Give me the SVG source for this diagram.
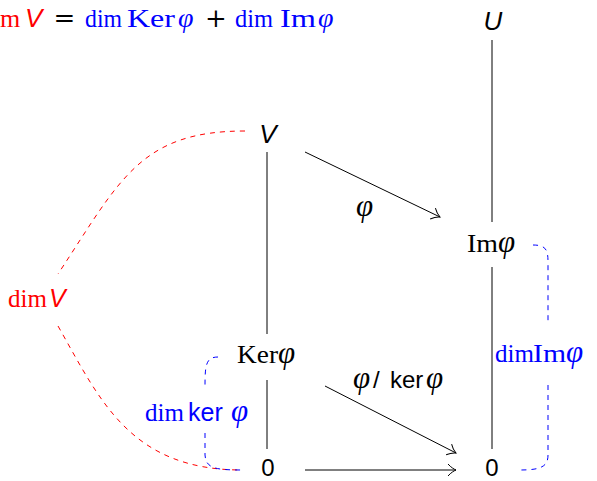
<svg xmlns="http://www.w3.org/2000/svg" width="597" height="481" viewBox="0 0 597 481">
<style>
.serif{font-family:"Liberation Serif","Times New Roman",serif}
.sans{font-family:"Liberation Sans",Arial,sans-serif}
.it{font-style:italic}
.phi{font-family:"Liberation Serif","Times New Roman",serif;font-style:italic}
.op{font-family:"DejaVu Serif",serif}
.red{fill:#ff0000}
.blue{fill:#0000ff}
.blk{fill:#000}
.ln{stroke:#000;stroke-width:1;fill:none}
.rd{stroke:#ff0000;stroke-width:1;fill:none;stroke-dasharray:5 5}
.bd{stroke:#0000ff;stroke-width:1;fill:none;stroke-dasharray:5 5}
</style>
<defs>
<marker id="to" markerUnits="userSpaceOnUse" markerWidth="16" markerHeight="16" refX="0" refY="0" viewBox="-10 -8 12 16" orient="auto" overflow="visible">
<path d="M -8,-6 C -5,-2.5 -1.5,-0.6 0,0 C -1.5,0.6 -5,2.5 -8,6" stroke="#000" stroke-width="1" fill="none"/>
</marker>
</defs>
<rect width="597" height="481" fill="#fff"/>
<g id="formula" font-size="26">
<text class="serif red" x="0" y="27">m</text>
<text class="sans it red" x="25" y="27">V</text>
<text class="op blk" x="64.5" y="27" text-anchor="middle">=</text>
<text class="serif blue" x="85" y="27" textLength="37" lengthAdjust="spacingAndGlyphs">dim</text>
<text class="serif blue" x="127" y="27" textLength="48" lengthAdjust="spacingAndGlyphs">Ker</text>
<text class="phi blue" x="178" y="27" font-size="28">φ</text>
<text class="op blk" x="216" y="27" text-anchor="middle">+</text>
<text class="serif blue" x="235" y="27" textLength="38" lengthAdjust="spacingAndGlyphs">dim</text>
<text class="serif blue" x="280" y="27" textLength="36" lengthAdjust="spacingAndGlyphs">Im</text>
<text class="phi blue" x="318" y="27" font-size="28">φ</text>
</g>
<g id="connectors">
<line class="ln" x1="267" y1="152" x2="267" y2="334"/>
<line class="ln" x1="267" y1="380" x2="267" y2="449"/>
<line class="ln" x1="492" y1="40" x2="492" y2="222"/>
<line class="ln" x1="492" y1="267" x2="492" y2="449"/>
<line class="ln" x1="305" y1="152" x2="440" y2="217" marker-end="url(#to)"/>
<line class="ln" x1="325" y1="386" x2="456" y2="453" marker-end="url(#to)"/>
<line class="ln" x1="305" y1="470" x2="456" y2="470" marker-end="url(#to)"/>
<path class="rd" d="M 245,131 C 140,131 120,180 58,274"/>
<path class="rd" d="M 58,326 C 100,400 130,470 242,470"/>
<path class="bd" d="M 218,357 C 206,357 205,365 205,386"/>
<path class="bd" d="M 205,433 L 205,455 C 206,468 214,470 242,470"/>
<path class="bd" d="M 533,245 C 546,245 548,250 548,262 L 548,324"/>
<path class="bd" d="M 548,385 L 548,455 C 548,466 542,470 520,470"/>
</g>
<g id="node-V"><text class="sans it blk" x="268" y="143" font-size="26" text-anchor="middle">V</text></g>
<g id="node-U"><text class="sans it blk" x="493" y="30" font-size="26" text-anchor="middle">U</text></g>
<g id="node-Im"><text class="serif blk" x="467" y="252" font-size="26" textLength="31" lengthAdjust="spacingAndGlyphs">Im</text><text class="phi blk" x="498" y="252" font-size="31">φ</text></g>
<g id="node-Ker"><text class="serif blk" x="237" y="363" font-size="26" textLength="41" lengthAdjust="spacingAndGlyphs">Ker</text><text class="phi blk" x="278" y="363" font-size="31">φ</text></g>
<g id="node-0L"><text class="sans blk" x="268" y="476" font-size="24" text-anchor="middle">0</text></g>
<g id="node-0R"><text class="sans blk" x="492" y="476" font-size="24" text-anchor="middle">0</text></g>
<g id="label-dimV"><text class="serif red" x="8" y="307" font-size="25">dim<tspan class="sans it" dx="2">V</tspan></text></g>
<g id="label-dimker"><text class="blue" x="145" y="421" font-size="25"><tspan class="serif">dim</tspan><tspan class="sans" x="188">ker</tspan><tspan class="phi" x="231" font-size="31">φ</tspan></text></g>
<g id="label-dimIm"><text class="blue" x="495" y="362" font-size="25"><tspan class="serif">dim</tspan><tspan class="serif" x="533" textLength="33" lengthAdjust="spacingAndGlyphs">Im</tspan><tspan class="phi" x="566" font-size="31">φ</tspan></text></g>
<g id="label-phi"><text class="phi blk" x="356" y="216" font-size="31">φ</text></g>
<g id="label-quot"><text class="blk" x="353" y="388" font-size="24"><tspan class="phi" font-size="31">φ</tspan><tspan class="sans" x="373">/</tspan><tspan class="sans" x="390">ker</tspan><tspan class="phi" x="426" font-size="31">φ</tspan></text></g>
</svg>
